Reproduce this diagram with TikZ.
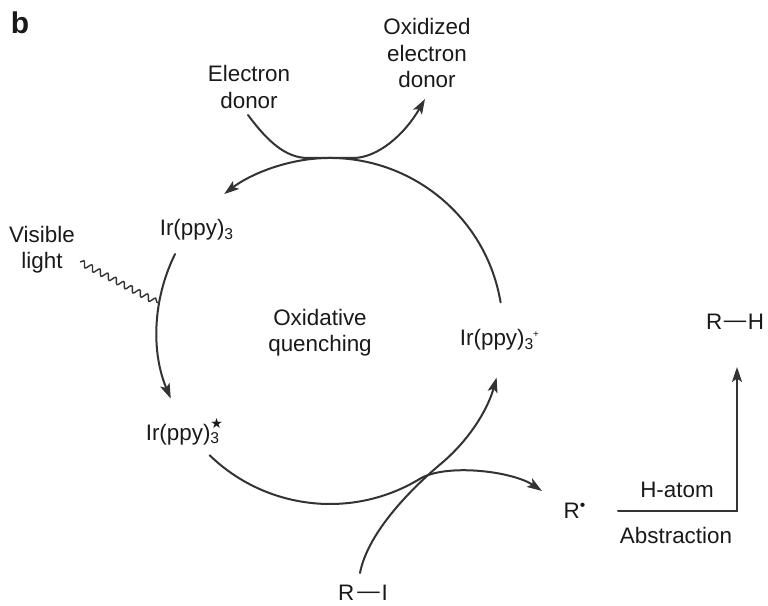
\documentclass[tikz,border=0pt]{standalone}
\usepackage{fontspec}
\setmainfont{Liberation Sans}
\newfontfamily\symfont{DejaVu Sans}
\usetikzlibrary{arrows.meta,decorations.pathmorphing,calc}
\begin{document}
\begin{tikzpicture}[x=0.5pt,y=0.5pt,
  lbl/.style={inner sep=0pt, align=center, text=black!90, font=\fontsize{11.2}{13.2}\selectfont},
  conn/.style={line width=1pt, draw=black!80, line cap=round},
  arr/.style={conn, -{Stealth[length=7.5pt,width=5pt,inset=1.7pt]}},
  wavy/.style={line width=0.7pt, draw=black!80, decorate, decoration={snake, segment length=4.5pt, amplitude=1.5pt}}]
\useasboundingbox (0,0) rectangle (768,606);
\def\R{86.5pt}
\coordinate (C) at (330,275);
% labels
\node[lbl, font=\bfseries\fontsize{15}{16}\selectfont] (b) at (20,583) {b};
\node[lbl] (donor) at (249,519) {Electron\\donor};
\node[lbl] (oxdonor) at (427,553) {Oxidized\\electron\\donor};
\node[lbl] (ir) at (197,376) {Ir(ppy)\textsubscript{3}};
\node[lbl] (light) at (42,356) {Visible\\light};
\node[lbl] (irstar) at (183,174) {Ir(ppy)\rlap{\raisebox{0.52em}{\symfont\fontsize{7}{7}\selectfont ★}}\textsubscript{3}};
\node[lbl] (quench) at (320,273) {Oxidative\\quenching};
\node[lbl] (irplus) at (500,266) {Ir(ppy)\textsubscript{3}\kern-0.05em\textsuperscript{\tiny +}};
\node[lbl] (RH) at (735,284) {R\kern0.8pt\raisebox{0.08em}{—}\kern0.8pt H};
\node[lbl] (Rrad) at (575,95) {R\textsuperscript{•}};
\node[lbl] (hatom) at (677,116) {H-atom};
\node[lbl] (abs) at (676,71) {Abstraction};
\node[lbl] (RI) at (363,13) {R\kern1.5pt\raisebox{0.08em}{—}\kern1pt I};
% free ends
\coordinate (dstart) at (248,491);
\coordinate (dend) at (425,507);
\coordinate (wstart) at (80,344);
\coordinate (riStart) at (360,33);
\coordinate (rTip) at (542,115);
\coordinate (habs0) at (618,95);
\coordinate (habs1) at (737,95);
\coordinate (rhTip) at (737,239);
% cycle arcs
\draw[arr] ($(C)+(9.5:\R)$) arc[start angle=9.5, end angle=127.7, radius=\R];
\draw[arr] ($(C)+(153.6:\R)$) arc[start angle=153.6, end angle=203, radius=\R];
\draw[arr] ($(C)+(225.9:\R)$) arc[start angle=225.9, end angle=301, radius=\R]
   .. controls (444.8,143) and (512,135) .. (rTip);
\draw[arr] (riStart) .. controls (368,75) and (414.4,120) .. ($(C)+(310:\R)$)
   arc[start angle=310, end angle=344.4, radius=\R];
% electron donor
\draw[arr] (dstart) .. controls (268,464) and (286,448) .. (308,448) -- (353,448)
   .. controls (378,448) and (405,472) .. (dend);
% light
\draw[wavy] (wstart) -- ($(C)+(170.8:\R)$);
% H-atom abstraction
\draw[arr] (habs0) -- (habs1) -- (rhTip);
\end{tikzpicture}
\end{document}
